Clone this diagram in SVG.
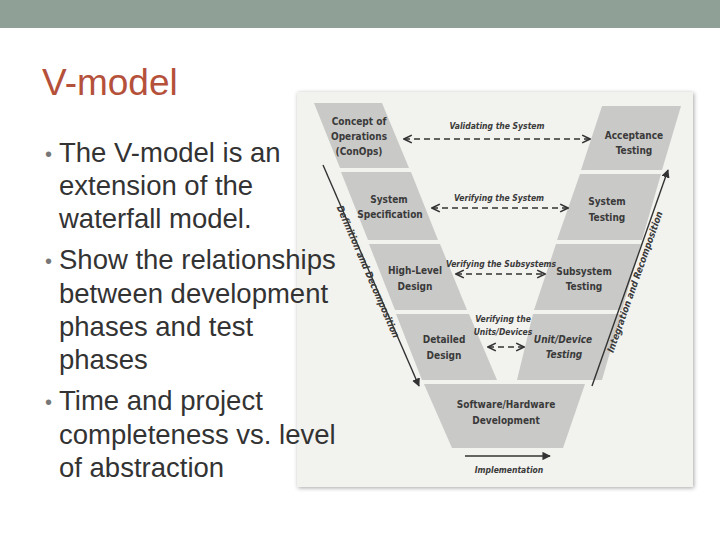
<svg xmlns="http://www.w3.org/2000/svg" width="720" height="540" viewBox="0 0 720 540">
<defs>
<style>
.band{fill:#c9c9c7}
.lb{font-family:"DejaVu Sans Condensed","DejaVu Sans",sans-serif;font-weight:bold;font-size:10px;fill:#3a3a3a;text-anchor:middle}
.it{font-style:italic;font-size:8.5px}
.rot{font-style:italic;font-size:9.5px}
.dash{stroke:#333;stroke-width:1.4;stroke-dasharray:6,4;fill:none}
.sol{stroke:#333;stroke-width:1.4;fill:none}
.body{font-family:"Liberation Sans",Arial,sans-serif;font-size:27.5px;fill:#333}
.bul{font-family:"Liberation Sans",Arial,sans-serif;font-size:20px;fill:#777}
</style>
<marker id="ah" viewBox="0 0 10 10" refX="9" refY="5" markerWidth="7" markerHeight="7" orient="auto-start-reverse"><path d="M1,1 L9,5 L1,9" fill="none" stroke="#333" stroke-width="1.6"/></marker>
<marker id="ahf" viewBox="0 0 10 10" refX="9" refY="5" markerWidth="6" markerHeight="6" orient="auto"><path d="M0,0 L10,5 L0,10 z" fill="#333"/></marker>
<filter id="sh" x="-5%" y="-5%" width="110%" height="110%"><feDropShadow dx="1" dy="1" stdDeviation="2" flood-color="#000" flood-opacity="0.35"/></filter>
</defs>
<rect width="720" height="540" fill="#fff"/>
<rect width="720" height="28" fill="#8fa197"/>
<text x="42" y="95" font-family="Liberation Sans,Arial,sans-serif" font-size="37" fill="#b5513a">V-model</text>
<g id="photo">
<rect x="297" y="92" width="396" height="395" fill="#f2f2ef" filter="url(#sh)"/>
</g>
<g id="left-bands">
<polygon class="band" points="314,103 382,103 409,168 340,168"/>
<polygon class="band" points="341,172 411,172 438,240 368,240"/>
<polygon class="band" points="369,244 440,244 467,310 395,310"/>
<polygon class="band" points="396,314 469,314 497,380 422,380"/>
</g>
<g id="right-bands">
<polygon class="band" points="602,106 681,106 662,170 581,170"/>
<polygon class="band" points="580,174 661,174 642,240 557,240"/>
<polygon class="band" points="556,244 641,244 622,310 534,310"/>
<polygon class="band" points="533,314 621,314 602,380 517,380"/>
</g>
<g id="bottom-band"><polygon class="band" points="424,384 585,384 563,448 452,448"/></g>
<g id="nodes">
<g id="conops"><text class="lb" x="359" y="125">Concept of</text><text class="lb" x="359" y="140">Operations</text><text class="lb" x="359" y="155">(ConOps)</text></g>
<g id="acceptance"><text class="lb" x="634" y="139">Acceptance</text><text class="lb" x="634" y="154">Testing</text></g>
<g id="syspec"><text class="lb" x="389" y="203">System</text><text class="lb" x="390" y="218">Specification</text></g>
<g id="systest"><text class="lb" x="607" y="205">System</text><text class="lb" x="607" y="221">Testing</text></g>
<g id="hld"><text class="lb" x="415" y="274">High-Level</text><text class="lb" x="415" y="290">Design</text></g>
<g id="subtest"><text class="lb" x="584" y="275">Subsystem</text><text class="lb" x="584" y="290">Testing</text></g>
<g id="dd"><text class="lb" x="444" y="343">Detailed</text><text class="lb" x="444" y="359">Design</text></g>
<g id="unit"><text class="lb" x="563" y="343" font-style="italic">Unit/Device</text><text class="lb" x="564" y="358" font-style="italic">Testing</text></g>
<g id="swhw"><text class="lb" x="506" y="408">Software/Hardware</text><text class="lb" x="506" y="424">Development</text></g>
</g>
<g id="connectors">
<line class="dash" x1="404" y1="139" x2="590" y2="139" marker-start="url(#ah)" marker-end="url(#ah)"/>
<text class="lb it" x="497" y="129">Validating the System</text>
<line class="dash" x1="432" y1="208" x2="568" y2="208" marker-start="url(#ah)" marker-end="url(#ah)"/>
<text class="lb it" x="499" y="201">Verifying the System</text>
<line class="dash" x1="456" y1="274" x2="545" y2="274" marker-start="url(#ah)" marker-end="url(#ah)"/>
<text class="lb it" x="501" y="267">Verifying the Subsystems</text>
<line class="dash" x1="488" y1="347" x2="524" y2="347" marker-start="url(#ah)" marker-end="url(#ah)" stroke-dasharray="5,4"/>
<text class="lb it" x="503" y="322">Verifying the</text>
<text class="lb it" x="503" y="335">Units/Devices</text>
<line class="sol" x1="465" y1="456" x2="550" y2="456" marker-end="url(#ahf)"/>
<text class="lb it" x="509" y="473">Implementation</text>
<line class="sol" x1="323" y1="165" x2="419" y2="386" marker-end="url(#ahf)"/>
<text class="lb rot" transform="translate(365,273) rotate(66.5)">Definition and Decomposition</text>
<line class="sol" x1="592" y1="386" x2="668" y2="170" marker-end="url(#ahf)"/>
<text class="lb rot" transform="translate(638,283) rotate(-70.6)">Integration and Recomposition</text>
</g>
<g id="bullets">
<text class="bul" x="45" y="161">•</text><text class="body" x="59" y="162">The V-model is an</text>
<text class="body" x="59" y="195">extension of the</text>
<text class="body" x="59" y="228">waterfall model.</text>
<text class="bul" x="45" y="268">•</text><text class="body" x="59" y="269">Show the relationships</text>
<text class="body" x="59" y="303">between development</text>
<text class="body" x="59" y="336">phases and test</text>
<text class="body" x="59" y="369">phases</text>
<text class="bul" x="45" y="409">•</text><text class="body" x="59" y="410">Time and project</text>
<text class="body" x="59" y="444">completeness vs. level</text>
<text class="body" x="59" y="477">of abstraction</text>
</g>
</svg>
